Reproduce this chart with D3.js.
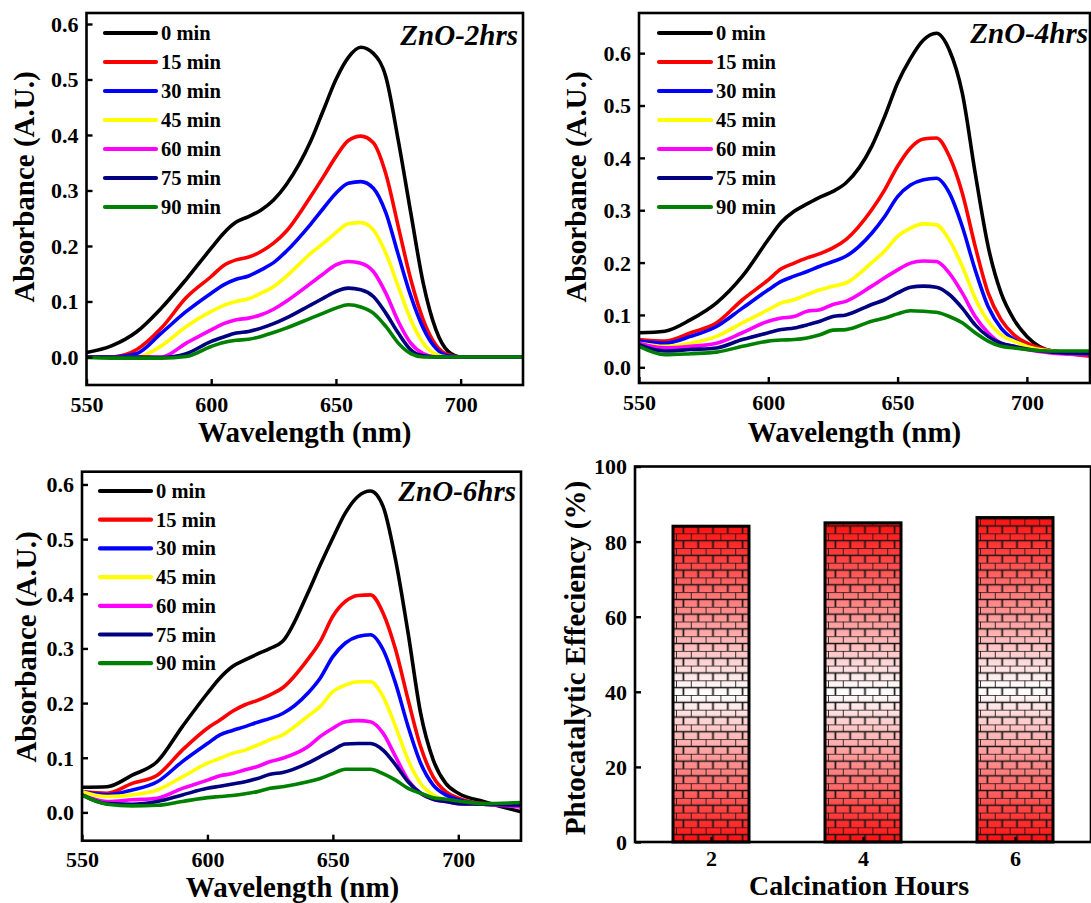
<!DOCTYPE html>
<html><head><meta charset="utf-8">
<script src="https://cdn.jsdelivr.net/npm/d3@7"></script>
<style>
body{margin:0;background:#fff}
svg{display:block}
text{font-family:"Liberation Serif","Times New Roman",serif;font-weight:bold;fill:#000}
</style>
</head><body>
<svg id="c" width="1091" height="903"></svg>
<script>
// ---------- DATA ----------
const wavelengths = [550,560,570,580,590,600,605,610,615,620,625,630,640,645,650,655,660,665,670,675,680,685,690,695,700,710,725];
const timeLabels = ["0 min","15 min","30 min","45 min","60 min","75 min","90 min"];
const lineColors = ["#000000","#ff0000","#0000ff","#ffff00","#ff00ff","#000080","#008000"];
const xTicks = [550,600,650,700];
const yTicksAbs = [0,0.1,0.2,0.3,0.4,0.5,0.6];

// ZnO-2hrs
const zno2_0  = [0.008,0.02,0.045,0.088,0.14,0.196,0.223,0.243,0.253,0.265,0.283,0.31,0.39,0.445,0.5,0.54,0.558,0.547,0.505,0.39,0.26,0.133,0.05,0.01,0,0,0];
const zno2_15 = [0,0,0.013,0.052,0.107,0.145,0.165,0.175,0.18,0.19,0.205,0.226,0.29,0.325,0.361,0.39,0.398,0.386,0.33,0.235,0.14,0.067,0.022,0.004,0,0,0];
const zno2_30 = [0,0,0.006,0.043,0.082,0.115,0.13,0.14,0.146,0.157,0.17,0.19,0.24,0.268,0.295,0.313,0.316,0.304,0.26,0.184,0.11,0.052,0.016,0.002,0,0,0];
const zno2_45 = [0,0,0,0.02,0.055,0.082,0.093,0.1,0.105,0.115,0.127,0.145,0.187,0.205,0.224,0.24,0.242,0.229,0.187,0.127,0.067,0.025,0.005,0,0,0,0];
const zno2_60 = [0,0,0,0,0.025,0.049,0.06,0.067,0.07,0.076,0.086,0.1,0.133,0.15,0.166,0.172,0.169,0.154,0.115,0.064,0.025,0.006,0,0,0,0,0];
const zno2_75 = [0,0,0,-0.001,0.006,0.028,0.036,0.043,0.046,0.052,0.06,0.07,0.094,0.106,0.118,0.124,0.121,0.109,0.079,0.043,0.013,0.002,0,0,0,0,0];
const zno2_90 = [-0.001,-0.002,-0.002,-0.002,0.001,0.019,0.026,0.03,0.032,0.037,0.044,0.052,0.07,0.079,0.088,0.094,0.09,0.079,0.055,0.025,0.006,0,0,0,0,0,0];

// ZnO-4hrs
const zno4_0  = [0.066,0.069,0.091,0.123,0.174,0.244,0.277,0.298,0.312,0.325,0.336,0.352,0.422,0.479,0.543,0.59,0.625,0.638,0.606,0.524,0.371,0.231,0.142,0.091,0.059,0.031,0.026];
const zno4_15 = [0.053,0.05,0.066,0.085,0.129,0.167,0.188,0.199,0.209,0.217,0.228,0.244,0.301,0.339,0.384,0.419,0.436,0.438,0.403,0.333,0.231,0.142,0.091,0.062,0.046,0.031,0.021];
const zno4_30 = [0.05,0.046,0.059,0.078,0.113,0.148,0.164,0.174,0.183,0.193,0.202,0.212,0.256,0.288,0.326,0.348,0.358,0.361,0.333,0.269,0.186,0.116,0.075,0.053,0.04,0.031,0.024];
const zno4_45 = [0.046,0.04,0.046,0.059,0.085,0.11,0.123,0.129,0.139,0.148,0.155,0.161,0.2,0.222,0.25,0.266,0.274,0.272,0.243,0.193,0.132,0.088,0.062,0.05,0.04,0.031,0.026];
const zno4_60 = [0.046,0.037,0.04,0.046,0.066,0.088,0.094,0.097,0.107,0.11,0.12,0.126,0.155,0.171,0.186,0.199,0.203,0.202,0.18,0.142,0.097,0.066,0.046,0.04,0.034,0.027,0.024];
const zno4_75 = [0.043,0.031,0.034,0.037,0.053,0.066,0.072,0.075,0.081,0.088,0.097,0.1,0.12,0.129,0.142,0.153,0.155,0.153,0.139,0.113,0.081,0.059,0.046,0.04,0.035,0.029,0.026];
const zno4_90 = [0.04,0.024,0.026,0.029,0.04,0.05,0.052,0.053,0.056,0.062,0.071,0.072,0.088,0.094,0.102,0.108,0.107,0.105,0.097,0.085,0.066,0.05,0.04,0.037,0.034,0.031,0.031];

// ZnO-6hrs
const zno6_0  = [0.046,0.047,0.068,0.093,0.157,0.218,0.246,0.267,0.279,0.29,0.3,0.313,0.401,0.453,0.502,0.548,0.578,0.588,0.56,0.462,0.328,0.181,0.096,0.053,0.035,0.02,0.001];
const zno6_15 = [0.038,0.035,0.053,0.068,0.114,0.154,0.169,0.185,0.197,0.205,0.215,0.228,0.28,0.313,0.359,0.386,0.397,0.398,0.365,0.298,0.206,0.12,0.065,0.038,0.026,0.016,0.013];
const zno6_30 = [0.038,0.032,0.041,0.056,0.093,0.126,0.142,0.15,0.157,0.165,0.172,0.181,0.218,0.246,0.285,0.31,0.322,0.325,0.298,0.236,0.157,0.09,0.05,0.032,0.023,0.015,0.012];
const zno6_45 = [0.038,0.029,0.032,0.041,0.065,0.09,0.099,0.108,0.114,0.123,0.133,0.142,0.176,0.194,0.221,0.233,0.239,0.239,0.212,0.157,0.096,0.053,0.032,0.023,0.018,0.015,0.013];
const zno6_60 = [0.032,0.02,0.023,0.026,0.044,0.059,0.067,0.071,0.078,0.084,0.093,0.099,0.12,0.139,0.154,0.166,0.168,0.166,0.145,0.102,0.059,0.035,0.024,0.02,0.016,0.015,0.01];
const zno6_75 = [0.032,0.016,0.015,0.02,0.032,0.044,0.048,0.052,0.056,0.062,0.07,0.073,0.09,0.102,0.114,0.125,0.126,0.126,0.114,0.087,0.056,0.035,0.024,0.02,0.016,0.015,0.013];
const zno6_90 = [0.032,0.015,0.012,0.013,0.02,0.027,0.029,0.031,0.034,0.038,0.044,0.047,0.056,0.062,0.071,0.079,0.079,0.079,0.071,0.059,0.044,0.035,0.027,0.024,0.021,0.016,0.018];

// Efficiency bars
const hours = [2,4,6];
const efficiency = [84.1,85.0,86.4];
const yTicksEff = [0,20,40,60,80,100];

// ---------- DRAW ----------
const svg = d3.select("#c");
const defs = svg.append("defs");

function spectraPanel(o){
  const x = d3.scaleLinear().domain(o.xDomain).range([o.left,o.right]);
  const y = d3.scaleLinear().domain(o.yDomain).range([o.bottom,o.top]);
  const g = svg.append("g");
  const cid = "clip"+o.id;
  defs.append("clipPath").attr("id",cid).append("rect")
    .attr("x",o.left).attr("y",o.top).attr("width",o.right-o.left).attr("height",o.bottom-o.top);

  const line = d3.line().x((d,i)=>x(wavelengths[i])).y(d=>y(d)).curve(d3.curveMonotoneX);
  const lg = g.append("g").attr("clip-path",`url(#${cid})`);
  o.series.forEach((s,i)=>{
    lg.append("path").attr("d",line(s)).attr("fill","none")
      .attr("stroke",lineColors[i]).attr("stroke-width",3.6)
      .attr("stroke-linejoin","round").attr("stroke-linecap","round");
  });

  const ax = g.append("g").attr("transform",`translate(0,${o.bottom})`)
    .call(d3.axisBottom(x).tickValues(xTicks).tickSizeInner(-6).tickSizeOuter(0).tickFormat(d3.format("d")));
  ax.select(".domain").remove();
  ax.selectAll(".tick line").attr("stroke","#000").attr("stroke-width",2.4);
  ax.selectAll(".tick text").attr("y",o.xLabelOff).attr("dy",0).attr("font-size",22);

  const ay = g.append("g").attr("transform",`translate(${o.left},0)`)
    .call(d3.axisLeft(y).tickValues(yTicksAbs).tickSizeInner(-6).tickSizeOuter(0).tickFormat(d3.format(".1f")));
  ay.select(".domain").remove();
  ay.selectAll(".tick line").attr("stroke","#000").attr("stroke-width",2.4);
  ay.selectAll(".tick text").attr("x",-8).attr("dy","0.34em").attr("font-size",22);

  g.append("rect").attr("x",o.left).attr("y",o.top).attr("width",o.right-o.left).attr("height",o.bottom-o.top)
    .attr("fill","none").attr("stroke","#000").attr("stroke-width",2.6);

  g.append("text").attr("x",(o.left+o.right)/2+o.xTitleShift).attr("y",o.xTitleY).attr("text-anchor","middle")
    .attr("font-size",29).text("Wavelength (nm)");
  g.append("text").attr("transform",`translate(${o.yTitleX},${o.yTitleY}) rotate(-90)`).attr("text-anchor","middle")
    .attr("font-size",29).text("Absorbance (A.U.)");

  timeLabels.forEach((t,i)=>{
    const yy = o.legY + i*o.legStep;
    g.append("line").attr("x1",o.legX1).attr("x2",o.legX2).attr("y1",yy).attr("y2",yy)
      .attr("stroke",lineColors[i]).attr("stroke-width",4.2).attr("stroke-linecap","round");
    g.append("text").attr("x",o.legX2+5).attr("y",yy+7).attr("font-size",20.5).text(t);
  });
  g.append("text").attr("x",o.labelX).attr("y",o.labelY).attr("text-anchor","end")
    .attr("font-size",29).attr("font-style","italic").text(o.label);
}

spectraPanel({id:1,left:86.5,right:523,top:13,bottom:385,xDomain:[550,725],yDomain:[-0.0505,0.6198],
  series:[zno2_0,zno2_15,zno2_30,zno2_45,zno2_60,zno2_75,zno2_90],
  xLabelOff:27,xTitleY:442,xTitleShift:0,yTitleX:34,yTitleY:187,
  legX1:105,legX2:156,legY:33,legStep:29,label:"ZnO-2hrs",labelX:518,labelY:45});

spectraPanel({id:2,left:639,right:1090,top:13,bottom:383,xDomain:[550,724.4],yDomain:[-0.03,0.6767],
  series:[zno4_0,zno4_15,zno4_30,zno4_45,zno4_60,zno4_75,zno4_90],
  xLabelOff:27,xTitleY:442,xTitleShift:-10,yTitleX:586,yTitleY:187,
  legX1:659,legX2:711,legY:33,legStep:29,label:"ZnO-4hrs",labelX:1088,labelY:43});

spectraPanel({id:3,left:82,right:521,top:471.7,bottom:840.7,xDomain:[550,725],yDomain:[-0.0518,0.6234],
  series:[zno6_0,zno6_15,zno6_30,zno6_45,zno6_60,zno6_75,zno6_90],
  xLabelOff:26,xTitleY:897,xTitleShift:-9,yTitleX:36,yTitleY:647,
  legX1:100,legX2:151,legY:491,legStep:28.7,label:"ZnO-6hrs",labelX:516,labelY:501});

// ---------- Bar panel ----------
(function(){
  const left=635,right=1091,top=466.5,bottom=842;
  const x = d3.scaleLinear().domain([1,7]).range([left,right]);
  const y = d3.scaleLinear().domain([0,100]).range([bottom,top]);
  const g = svg.append("g");
  const bw = x(1.5)-x(1);

  const grad = defs.append("linearGradient").attr("id","barGrad").attr("x1",0).attr("y1",0).attr("x2",0).attr("y2",1);
  grad.append("stop").attr("offset","0%").attr("stop-color","#ff1010");
  grad.append("stop").attr("offset","53%").attr("stop-color","#ffffff");
  grad.append("stop").attr("offset","100%").attr("stop-color","#ff1010");

  const bh = 7.35, bwid = 14.8;
  hours.forEach((h,i)=>{
    const x0 = x(h)-bw, x1 = x(h)+bw, y0 = y(efficiency[i]);
    const pat = defs.append("pattern").attr("id","brick"+i).attr("patternUnits","userSpaceOnUse")
      .attr("x",x0+3).attr("y",bottom).attr("width",bwid).attr("height",bh*2);
    pat.append("path").attr("d",`M0,0H${bwid}M0,${bh}H${bwid}M0,0V${bh}M${bwid/2},${bh}V${bh*2}`)
      .attr("stroke","#151515").attr("stroke-width",1.7).attr("fill","none");
    g.append("rect").attr("x",x0).attr("y",y0).attr("width",x1-x0).attr("height",bottom-y0).attr("fill","url(#barGrad)");
    g.append("rect").attr("x",x0).attr("y",y0).attr("width",x1-x0).attr("height",bottom-y0).attr("fill",`url(#brick${i})`);
    g.append("rect").attr("x",x0).attr("y",y0).attr("width",x1-x0).attr("height",bottom-y0)
      .attr("fill","none").attr("stroke","#000").attr("stroke-width",3);
  });

  const ax = g.append("g").attr("transform",`translate(0,${bottom})`)
    .call(d3.axisBottom(x).tickValues(hours).tickSizeInner(-5).tickSizeOuter(0).tickFormat(d3.format("d")));
  ax.select(".domain").remove();
  ax.selectAll(".tick line").attr("stroke","#000").attr("stroke-width",2.2);
  ax.selectAll(".tick text").attr("y",24).attr("dy",0).attr("font-size",22);

  const ay = g.append("g").attr("transform",`translate(${left},0)`)
    .call(d3.axisLeft(y).tickValues(yTicksEff).tickSizeInner(-6).tickSizeOuter(0).tickFormat(d3.format("d")));
  ay.select(".domain").remove();
  ay.selectAll(".tick line").attr("stroke","#000").attr("stroke-width",2.4);
  ay.selectAll(".tick text").attr("x",-8).attr("dy","0.34em").attr("font-size",22);

  g.append("rect").attr("x",left).attr("y",top).attr("width",right-left).attr("height",bottom-top)
    .attr("fill","none").attr("stroke","#000").attr("stroke-width",2.6);

  g.append("text").attr("x",(left+right)/2-4).attr("y",895).attr("text-anchor","middle")
    .attr("font-size",28).text("Calcination Hours");
  g.append("text").attr("transform",`translate(585,658) rotate(-90)`).attr("text-anchor","middle")
    .attr("font-size",29).text("Phtocatalytic Effeciency (%)");
})();
</script>
</body></html>
